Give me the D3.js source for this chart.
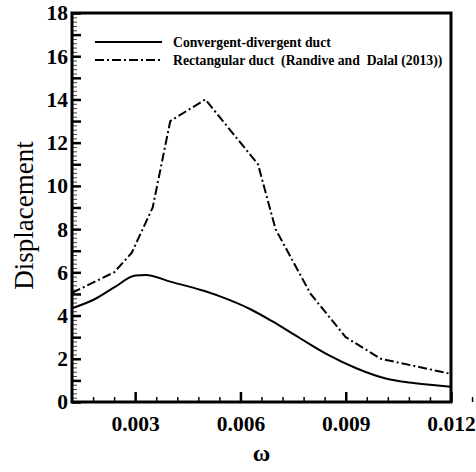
<!DOCTYPE html>
<html>
<head>
<meta charset="utf-8">
<script src="https://cdn.jsdelivr.net/npm/d3@7"></script>
<style>
  body { margin: 0; background: #fff; }
  svg { display: block; }
  .tick text { font-family: "Liberation Serif", "Times New Roman", serif; font-weight: bold; font-size: 21.5px; fill: #000; }
</style>
</head>
<body>
<svg id="chart"></svg>
<script>
// omega values and displacement for each duct
const convOmega = [0.0012, 0.0018, 0.0024, 0.0030, 0.0033, 0.0040, 0.0049, 0.0054, 0.0063, 0.0069, 0.0077, 0.0085, 0.0093, 0.0102, 0.0108, 0.0114, 0.0120];
const convDisp  = [4.34, 4.72, 5.3, 5.85, 5.88, 5.57, 5.17, 4.9, 4.28, 3.74, 2.95, 2.18, 1.56, 1.06, 0.9, 0.8, 0.71];
const rectOmega = [0.0012, 0.0024, 0.0029, 0.0035, 0.0040, 0.0050, 0.0065, 0.0070, 0.0080, 0.0090, 0.0100, 0.0120];
const rectDisp  = [5.05, 6.0, 6.9, 9.0, 13.0, 14.0, 11.0, 8.0, 5.0, 3.0, 2.0, 1.3];
const xTicks = [0.003, 0.006, 0.009, 0.012];
const yTicks = [0, 2, 4, 6, 8, 10, 12, 14, 16, 18];
const seriesNames = ["Convergent-divergent duct", "Rectangular duct  (Randive and  Dalal (2013))"];

const width = 476, height = 472;
const margin = { top: 13, right: 25, bottom: 70, left: 72 };

const svg = d3.select("#chart").attr("width", width).attr("height", height);

const x = d3.scaleLinear().domain([0.0012, 0.012]).range([margin.left, width - margin.right]);
const y = d3.scaleLinear().domain([0, 18]).range([height - margin.bottom, margin.top]);

const dashDot = "9,3,2,3";

// minor ticks on y (every 0.2), thin
const yMinor = d3.range(0, 18.001, 0.2).filter(v => Math.abs(v - Math.round(v)) > 1e-6);
svg.append("g")
  .attr("transform", `translate(${margin.left},0)`)
  .call(d3.axisLeft(y).tickValues(yMinor).tickSize(-5).tickFormat(""))
  .call(g => g.select(".domain").remove())
  .selectAll(".tick line").attr("stroke", "#444").attr("stroke-width", 1);

// unit ticks on y
svg.append("g")
  .attr("transform", `translate(${margin.left},0)`)
  .call(d3.axisLeft(y).tickValues(d3.range(1, 18, 2)).tickSize(-9).tickFormat(""))
  .call(g => g.select(".domain").remove())
  .selectAll(".tick line").attr("stroke-width", 2.5);

// labelled y axis
svg.append("g")
  .attr("transform", `translate(${margin.left},0)`)
  .call(d3.axisLeft(y).tickValues(yTicks).tickSize(-9).tickPadding(4))
  .call(g => g.select(".domain").remove())
  .selectAll(".tick line").attr("stroke-width", 2.5);

// minor ticks on x (every 0.0006)
const xMinor = d3.range(1, 20).map(i => 0.0012 + i * 0.0006).filter(v => xTicks.every(t => Math.abs(t - v) > 1e-7));
svg.append("g")
  .attr("transform", `translate(0,${height - margin.bottom})`)
  .call(d3.axisBottom(x).tickValues(xMinor).tickSize(-5).tickFormat(""))
  .call(g => g.select(".domain").remove())
  .selectAll(".tick line").attr("stroke-width", 1.5);

svg.append("g")
  .attr("transform", `translate(0,${height - margin.bottom})`)
  .call(d3.axisBottom(x).tickValues(xTicks).tickSize(-10).tickPadding(14).tickFormat(d3.format(".3f")))
  .call(g => g.select(".domain").remove())
  .selectAll(".tick line").attr("stroke-width", 2.5);

// curves
const convData = convOmega.map((w, i) => [w, convDisp[i]]);
const rectData = rectOmega.map((w, i) => [w, rectDisp[i]]);

svg.append("path")
  .datum(convData)
  .attr("fill", "none")
  .attr("stroke", "#000")
  .attr("stroke-width", 2)
  .attr("d", d3.line().x(d => x(d[0])).y(d => y(d[1])).curve(d3.curveMonotoneX));

svg.append("path")
  .datum(rectData)
  .attr("fill", "none")
  .attr("stroke", "#000")
  .attr("stroke-width", 2)
  .attr("stroke-dasharray", dashDot)
  .attr("d", d3.line().x(d => x(d[0])).y(d => y(d[1])));

// frame
svg.append("rect")
  .attr("x", margin.left)
  .attr("y", margin.top)
  .attr("width", width - margin.right - margin.left)
  .attr("height", height - margin.bottom - margin.top)
  .attr("fill", "none")
  .attr("stroke", "#000")
  .attr("stroke-width", 3);

// legend
const legend = svg.append("g").attr("transform", "translate(95,42)");
seriesNames.forEach((name, i) => {
  legend.append("line")
    .attr("x1", 0).attr("x2", 67)
    .attr("y1", i * 18).attr("y2", i * 18)
    .attr("stroke", "#000")
    .attr("stroke-width", 2)
    .attr("stroke-dasharray", i === 1 ? dashDot : null);
  legend.append("text")
    .attr("x", 78)
    .attr("y", i * 18 + 5)
    .attr("xml:space", "preserve")
    .style("white-space", "pre")
    .style("font-family", "'Liberation Serif', serif")
    .style("font-weight", "bold")
    .style("font-size", "13.7px")
    .text(name);
});

// axis titles
svg.append("text")
  .attr("transform", `translate(33,${(margin.top + height - margin.bottom) / 2 + 8}) rotate(-90)`)
  .attr("text-anchor", "middle")
  .style("font-family", "'Liberation Serif', serif")
  .style("font-size", "27px")
  .text("Displacement");

svg.append("text")
  .attr("x", (margin.left + width - margin.right) / 2)
  .attr("y", 461)
  .attr("text-anchor", "middle")
  .style("font-family", "'Liberation Serif', serif")
  .style("font-weight", "bold")
  .style("font-size", "24px")
  .text("ω");
</script>
</body>
</html>
